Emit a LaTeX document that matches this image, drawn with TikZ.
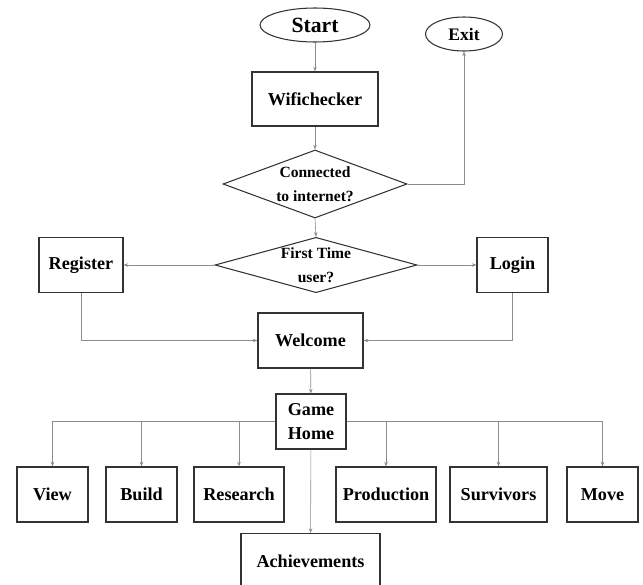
\documentclass[tikz,border=0pt]{standalone}
\usepackage{fontspec}
\setmainfont{Liberation Serif}
\usetikzlibrary{shapes.geometric,arrows.meta}

\begin{document}
\begin{tikzpicture}[x = 0.03cm, y = -0.03cm,
  box/.style = {draw = black!80, line width = 0.9pt, inner sep = 0pt,
    minimum height = 1.65cm, font = \fontsize{15.5}{20.4}\selectfont\bfseries, align = center},
  term/.style = {ellipse, draw = black!80, line width = 0.9pt, inner sep = 0pt, minimum height = 1.02cm},
  decide/.style = {diamond, draw = black!80, line width = 0.9pt, inner xsep = 0pt, inner ysep = -3pt,
    font = \fontsize{13.3}{20.4}\selectfont\bfseries, align = center},
  link/.style = {draw = black!45, line width = 0.5pt, -{Stealth[length = 4pt, width = 3pt]}}]
\clip (0, 0) rectangle (643, 584);
% top part
\node [term, minimum width = 3.3cm, font = \fontsize{18.5}{20}\selectfont\bfseries] (start) at (315, 25) {Start};
\node [term, minimum width = 2.31cm, font = \fontsize{15}{18}\selectfont\bfseries] (exit) at (464, 34) {Exit};
\node [box, minimum width = 3.78cm, minimum height = 1.62cm] (wifi) at (315, 99) {Wifichecker};
\node [decide, shape aspect = 2.7, minimum width = 5.52cm, minimum height = 2.04cm] (conn) at (315, 184) {Connected\\to internet?};
\node [decide, shape aspect = 3.67, minimum width = 6.06cm, minimum height = 1.66cm] (first) at (316, 265) {First Time\\user?};
\node [box, minimum width = 2.52cm] (register) at (81, 265) {Register};
\node [box, minimum width = 2.13cm] (login) at (512.5, 265) {Login};
\node [box, minimum width = 3.15cm] (welcome) at (310.5, 340.5) {Welcome};
\node [box, minimum width = 2.1cm] (home) at (311, 421.5) {Game\\Home};
% bottom row
\node [box, minimum width = 2.13cm] (view) at (52.5, 494.5) {View};
\node [box, minimum width = 2.13cm] (build) at (141.5, 494.5) {Build};
\node [box, minimum width = 2.7cm] (research) at (239, 494.5) {Research};
\node [box, minimum width = 3cm] (production) at (386, 494.5) {Production};
\node [box, minimum width = 2.91cm] (survivors) at (498.5, 494.5) {Survivors};
\node [box, minimum width = 2.13cm] (move) at (602.5, 494.5) {Move};
\node [box, minimum width = 4.17cm] (achieve) at (310.5, 561) {Achievements};
% connectors
\draw [link] (start) -- (wifi);
\draw [link] (wifi) -- (conn);
\draw [link] (conn.east) -| (exit.south);
\draw [link] (conn.south) -- (first.north);
\draw [link] (first.west) -- (register.east);
\draw [link] (first.east) -- (login.west);
\draw [link] (register.south) |- (welcome.west);
\draw [link] (login.south) |- (welcome.east);
\draw [link] (welcome) -- (home);
\draw [link] (home.west) -| (view.north);
\draw [link] (home.west) -| (build.north);
\draw [link] (home.west) -| (research.north);
\draw [link] (home.east) -| (production.north);
\draw [link] (home.east) -| (survivors.north);
\draw [link] (home.east) -| (move.north);
\draw [link] (home) -- (achieve);
\end{tikzpicture}
\end{document}
